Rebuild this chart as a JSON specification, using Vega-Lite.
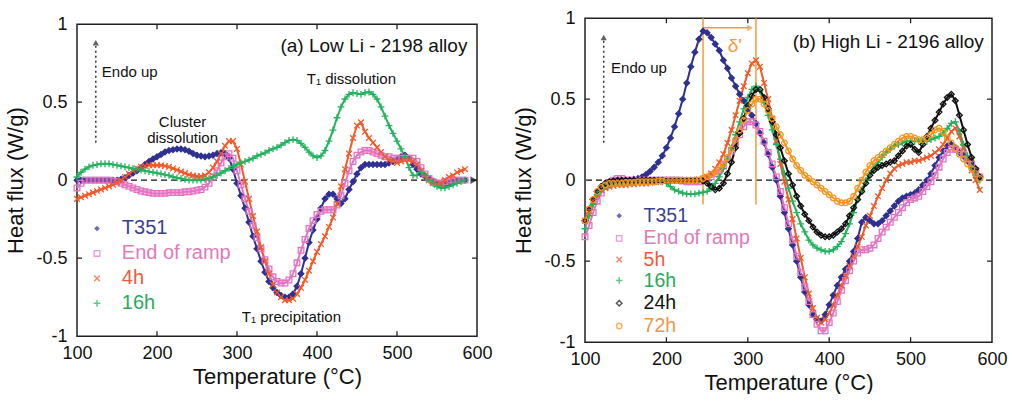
{
"$schema": "https://vega.github.io/schema/vega-lite/v6.json",
"background": "white",
"padding": {"top": 8, "left": 4, "right": 5, "bottom": 0},
"config": {
  "font": "Liberation Sans",
  "view": {"stroke": "#222", "strokeWidth": 1.5},
  "axis": {"grid": false, "ticks": false, "domain": false, "labelFlush": false, "labelFont": "Liberation Sans", "labelFontSize": 18, "labelColor": "#111", "titleFont": "Liberation Sans", "titleFontSize": 22, "titleFontWeight": "normal", "titleColor": "#111", "labelPadding": 10},
  "text": {"font": "Liberation Sans"}
},
"resolve": {"scale": {"color": "independent", "shape": "independent", "stroke": "independent"}},
"center": true,
"spacing": 19,
"datasets": {
"A": [
{"s":"T351","t":100,"v":0},{"s":"T351","t":105,"v":0},{"s":"T351","t":110,"v":0},{"s":"T351","t":115,"v":0},{"s":"T351","t":120,"v":0},{"s":"T351","t":125,"v":0},{"s":"T351","t":130,"v":0},{"s":"T351","t":135,"v":0},{"s":"T351","t":140,"v":0},{"s":"T351","t":145,"v":0},{"s":"T351","t":150,"v":0},{"s":"T351","t":155,"v":0.005},{"s":"T351","t":160,"v":0.015},{"s":"T351","t":165,"v":0.03},{"s":"T351","t":170,"v":0.045},{"s":"T351","t":175,"v":0.06},{"s":"T351","t":180,"v":0.08},{"s":"T351","t":185,"v":0.1},{"s":"T351","t":190,"v":0.12},{"s":"T351","t":195,"v":0.135},{"s":"T351","t":200,"v":0.15},{"s":"T351","t":205,"v":0.165},{"s":"T351","t":210,"v":0.18},{"s":"T351","t":215,"v":0.19},{"s":"T351","t":220,"v":0.195},{"s":"T351","t":225,"v":0.2},{"s":"T351","t":230,"v":0.2},{"s":"T351","t":235,"v":0.195},{"s":"T351","t":240,"v":0.185},{"s":"T351","t":245,"v":0.17},{"s":"T351","t":250,"v":0.16},{"s":"T351","t":255,"v":0.155},{"s":"T351","t":260,"v":0.15},{"s":"T351","t":265,"v":0.155},{"s":"T351","t":270,"v":0.16},{"s":"T351","t":275,"v":0.17},{"s":"T351","t":280,"v":0.175},{"s":"T351","t":285,"v":0.17},{"s":"T351","t":290,"v":0.14},{"s":"T351","t":295,"v":0.07},{"s":"T351","t":300,"v":-0.02},{"s":"T351","t":305,"v":-0.1},{"s":"T351","t":310,"v":-0.18},{"s":"T351","t":315,"v":-0.27},{"s":"T351","t":320,"v":-0.36},{"s":"T351","t":325,"v":-0.44},{"s":"T351","t":330,"v":-0.52},{"s":"T351","t":335,"v":-0.59},{"s":"T351","t":340,"v":-0.65},{"s":"T351","t":345,"v":-0.69},{"s":"T351","t":350,"v":-0.72},{"s":"T351","t":355,"v":-0.74},{"s":"T351","t":360,"v":-0.75},{"s":"T351","t":365,"v":-0.75},{"s":"T351","t":370,"v":-0.73},{"s":"T351","t":375,"v":-0.68},{"s":"T351","t":380,"v":-0.6},{"s":"T351","t":385,"v":-0.5},{"s":"T351","t":390,"v":-0.4},{"s":"T351","t":395,"v":-0.32},{"s":"T351","t":400,"v":-0.25},{"s":"T351","t":405,"v":-0.18},{"s":"T351","t":410,"v":-0.12},{"s":"T351","t":415,"v":-0.09},{"s":"T351","t":420,"v":-0.09},{"s":"T351","t":425,"v":-0.12},{"s":"T351","t":430,"v":-0.15},{"s":"T351","t":435,"v":-0.12},{"s":"T351","t":440,"v":-0.06},{"s":"T351","t":445,"v":-0.01},{"s":"T351","t":450,"v":0.04},{"s":"T351","t":455,"v":0.08},{"s":"T351","t":460,"v":0.1},{"s":"T351","t":465,"v":0.1},{"s":"T351","t":470,"v":0.1},{"s":"T351","t":475,"v":0.1},{"s":"T351","t":480,"v":0.1},{"s":"T351","t":485,"v":0.1},{"s":"T351","t":490,"v":0.11},{"s":"T351","t":495,"v":0.12},{"s":"T351","t":500,"v":0.13},{"s":"T351","t":505,"v":0.15},{"s":"T351","t":510,"v":0.16},{"s":"T351","t":515,"v":0.14},{"s":"T351","t":520,"v":0.1},{"s":"T351","t":525,"v":0.07},{"s":"T351","t":530,"v":0.04},{"s":"T351","t":535,"v":0.025},{"s":"T351","t":540,"v":0.01},{"s":"T351","t":545,"v":-0.005},{"s":"T351","t":550,"v":-0.02},{"s":"T351","t":555,"v":-0.03},{"s":"T351","t":560,"v":-0.03},{"s":"T351","t":565,"v":-0.02},{"s":"T351","t":570,"v":-0.01},{"s":"T351","t":575,"v":0},{"s":"T351","t":580,"v":0},{"s":"T351","t":585,"v":0},
{"s":"End of ramp","t":100,"v":-0.05},{"s":"End of ramp","t":105,"v":-0.02},{"s":"End of ramp","t":110,"v":0},{"s":"End of ramp","t":115,"v":0},{"s":"End of ramp","t":120,"v":0},{"s":"End of ramp","t":125,"v":0},{"s":"End of ramp","t":130,"v":0},{"s":"End of ramp","t":135,"v":0},{"s":"End of ramp","t":140,"v":0},{"s":"End of ramp","t":145,"v":-0.005},{"s":"End of ramp","t":150,"v":-0.01},{"s":"End of ramp","t":155,"v":-0.02},{"s":"End of ramp","t":160,"v":-0.03},{"s":"End of ramp","t":165,"v":-0.04},{"s":"End of ramp","t":170,"v":-0.05},{"s":"End of ramp","t":175,"v":-0.06},{"s":"End of ramp","t":180,"v":-0.07},{"s":"End of ramp","t":185,"v":-0.075},{"s":"End of ramp","t":190,"v":-0.08},{"s":"End of ramp","t":195,"v":-0.085},{"s":"End of ramp","t":200,"v":-0.085},{"s":"End of ramp","t":205,"v":-0.085},{"s":"End of ramp","t":210,"v":-0.085},{"s":"End of ramp","t":215,"v":-0.08},{"s":"End of ramp","t":220,"v":-0.08},{"s":"End of ramp","t":225,"v":-0.08},{"s":"End of ramp","t":230,"v":-0.08},{"s":"End of ramp","t":235,"v":-0.075},{"s":"End of ramp","t":240,"v":-0.075},{"s":"End of ramp","t":245,"v":-0.07},{"s":"End of ramp","t":250,"v":-0.065},{"s":"End of ramp","t":255,"v":-0.06},{"s":"End of ramp","t":260,"v":-0.045},{"s":"End of ramp","t":265,"v":-0.02},{"s":"End of ramp","t":270,"v":0.02},{"s":"End of ramp","t":275,"v":0.06},{"s":"End of ramp","t":280,"v":0.11},{"s":"End of ramp","t":285,"v":0.15},{"s":"End of ramp","t":290,"v":0.17},{"s":"End of ramp","t":295,"v":0.14},{"s":"End of ramp","t":300,"v":0.06},{"s":"End of ramp","t":305,"v":-0.03},{"s":"End of ramp","t":310,"v":-0.12},{"s":"End of ramp","t":315,"v":-0.2},{"s":"End of ramp","t":320,"v":-0.29},{"s":"End of ramp","t":325,"v":-0.37},{"s":"End of ramp","t":330,"v":-0.44},{"s":"End of ramp","t":335,"v":-0.51},{"s":"End of ramp","t":340,"v":-0.57},{"s":"End of ramp","t":345,"v":-0.62},{"s":"End of ramp","t":350,"v":-0.65},{"s":"End of ramp","t":355,"v":-0.66},{"s":"End of ramp","t":360,"v":-0.66},{"s":"End of ramp","t":365,"v":-0.64},{"s":"End of ramp","t":370,"v":-0.6},{"s":"End of ramp","t":375,"v":-0.53},{"s":"End of ramp","t":380,"v":-0.45},{"s":"End of ramp","t":385,"v":-0.38},{"s":"End of ramp","t":390,"v":-0.31},{"s":"End of ramp","t":395,"v":-0.26},{"s":"End of ramp","t":400,"v":-0.22},{"s":"End of ramp","t":405,"v":-0.2},{"s":"End of ramp","t":410,"v":-0.19},{"s":"End of ramp","t":415,"v":-0.19},{"s":"End of ramp","t":420,"v":-0.19},{"s":"End of ramp","t":425,"v":-0.16},{"s":"End of ramp","t":430,"v":-0.1},{"s":"End of ramp","t":435,"v":-0.02},{"s":"End of ramp","t":440,"v":0.06},{"s":"End of ramp","t":445,"v":0.12},{"s":"End of ramp","t":450,"v":0.16},{"s":"End of ramp","t":455,"v":0.18},{"s":"End of ramp","t":460,"v":0.19},{"s":"End of ramp","t":465,"v":0.19},{"s":"End of ramp","t":470,"v":0.18},{"s":"End of ramp","t":475,"v":0.17},{"s":"End of ramp","t":480,"v":0.16},{"s":"End of ramp","t":485,"v":0.15},{"s":"End of ramp","t":490,"v":0.15},{"s":"End of ramp","t":495,"v":0.14},{"s":"End of ramp","t":500,"v":0.14},{"s":"End of ramp","t":505,"v":0.14},{"s":"End of ramp","t":510,"v":0.14},{"s":"End of ramp","t":515,"v":0.14},{"s":"End of ramp","t":520,"v":0.14},{"s":"End of ramp","t":525,"v":0.12},{"s":"End of ramp","t":530,"v":0.08},{"s":"End of ramp","t":535,"v":0.04},{"s":"End of ramp","t":540,"v":0.01},{"s":"End of ramp","t":545,"v":-0.01},{"s":"End of ramp","t":550,"v":-0.02},{"s":"End of ramp","t":555,"v":-0.02},{"s":"End of ramp","t":560,"v":-0.01},{"s":"End of ramp","t":565,"v":0},{"s":"End of ramp","t":570,"v":0},{"s":"End of ramp","t":575,"v":0},{"s":"End of ramp","t":580,"v":0},{"s":"End of ramp","t":585,"v":0},
{"s":"4h","t":100,"v":-0.12},{"s":"4h","t":105,"v":-0.11},{"s":"4h","t":110,"v":-0.1},{"s":"4h","t":115,"v":-0.09},{"s":"4h","t":120,"v":-0.08},{"s":"4h","t":125,"v":-0.07},{"s":"4h","t":130,"v":-0.06},{"s":"4h","t":135,"v":-0.05},{"s":"4h","t":140,"v":-0.04},{"s":"4h","t":145,"v":-0.03},{"s":"4h","t":150,"v":-0.015},{"s":"4h","t":155,"v":0},{"s":"4h","t":160,"v":0.02},{"s":"4h","t":165,"v":0.04},{"s":"4h","t":170,"v":0.06},{"s":"4h","t":175,"v":0.075},{"s":"4h","t":180,"v":0.085},{"s":"4h","t":185,"v":0.09},{"s":"4h","t":190,"v":0.095},{"s":"4h","t":195,"v":0.095},{"s":"4h","t":200,"v":0.095},{"s":"4h","t":205,"v":0.095},{"s":"4h","t":210,"v":0.09},{"s":"4h","t":215,"v":0.085},{"s":"4h","t":220,"v":0.075},{"s":"4h","t":225,"v":0.065},{"s":"4h","t":230,"v":0.055},{"s":"4h","t":235,"v":0.045},{"s":"4h","t":240,"v":0.035},{"s":"4h","t":245,"v":0.03},{"s":"4h","t":250,"v":0.025},{"s":"4h","t":255,"v":0.025},{"s":"4h","t":260,"v":0.03},{"s":"4h","t":265,"v":0.05},{"s":"4h","t":270,"v":0.08},{"s":"4h","t":275,"v":0.12},{"s":"4h","t":280,"v":0.17},{"s":"4h","t":285,"v":0.22},{"s":"4h","t":290,"v":0.25},{"s":"4h","t":295,"v":0.25},{"s":"4h","t":300,"v":0.2},{"s":"4h","t":305,"v":0.1},{"s":"4h","t":310,"v":-0.01},{"s":"4h","t":315,"v":-0.12},{"s":"4h","t":320,"v":-0.23},{"s":"4h","t":325,"v":-0.33},{"s":"4h","t":330,"v":-0.43},{"s":"4h","t":335,"v":-0.52},{"s":"4h","t":340,"v":-0.6},{"s":"4h","t":345,"v":-0.67},{"s":"4h","t":350,"v":-0.72},{"s":"4h","t":355,"v":-0.75},{"s":"4h","t":360,"v":-0.77},{"s":"4h","t":365,"v":-0.77},{"s":"4h","t":370,"v":-0.76},{"s":"4h","t":375,"v":-0.73},{"s":"4h","t":380,"v":-0.69},{"s":"4h","t":385,"v":-0.64},{"s":"4h","t":390,"v":-0.58},{"s":"4h","t":395,"v":-0.52},{"s":"4h","t":400,"v":-0.46},{"s":"4h","t":405,"v":-0.41},{"s":"4h","t":410,"v":-0.36},{"s":"4h","t":415,"v":-0.3},{"s":"4h","t":420,"v":-0.24},{"s":"4h","t":425,"v":-0.15},{"s":"4h","t":430,"v":-0.04},{"s":"4h","t":435,"v":0.07},{"s":"4h","t":440,"v":0.17},{"s":"4h","t":445,"v":0.27},{"s":"4h","t":450,"v":0.35},{"s":"4h","t":455,"v":0.37},{"s":"4h","t":460,"v":0.31},{"s":"4h","t":465,"v":0.27},{"s":"4h","t":470,"v":0.24},{"s":"4h","t":475,"v":0.21},{"s":"4h","t":480,"v":0.18},{"s":"4h","t":485,"v":0.15},{"s":"4h","t":490,"v":0.13},{"s":"4h","t":495,"v":0.12},{"s":"4h","t":500,"v":0.11},{"s":"4h","t":505,"v":0.12},{"s":"4h","t":510,"v":0.13},{"s":"4h","t":515,"v":0.13},{"s":"4h","t":520,"v":0.12},{"s":"4h","t":525,"v":0.1},{"s":"4h","t":530,"v":0.06},{"s":"4h","t":535,"v":0.03},{"s":"4h","t":540,"v":0},{"s":"4h","t":545,"v":-0.02},{"s":"4h","t":550,"v":-0.03},{"s":"4h","t":555,"v":-0.02},{"s":"4h","t":560,"v":0},{"s":"4h","t":565,"v":0.02},{"s":"4h","t":570,"v":0.03},{"s":"4h","t":575,"v":0.05},{"s":"4h","t":580,"v":0.06},{"s":"4h","t":585,"v":0.07},
{"s":"16h","t":100,"v":0.02},{"s":"16h","t":105,"v":0.05},{"s":"16h","t":110,"v":0.07},{"s":"16h","t":115,"v":0.085},{"s":"16h","t":120,"v":0.095},{"s":"16h","t":125,"v":0.1},{"s":"16h","t":130,"v":0.105},{"s":"16h","t":135,"v":0.105},{"s":"16h","t":140,"v":0.105},{"s":"16h","t":145,"v":0.1},{"s":"16h","t":150,"v":0.095},{"s":"16h","t":155,"v":0.09},{"s":"16h","t":160,"v":0.085},{"s":"16h","t":165,"v":0.08},{"s":"16h","t":170,"v":0.075},{"s":"16h","t":175,"v":0.07},{"s":"16h","t":180,"v":0.065},{"s":"16h","t":185,"v":0.06},{"s":"16h","t":190,"v":0.055},{"s":"16h","t":195,"v":0.05},{"s":"16h","t":200,"v":0.045},{"s":"16h","t":205,"v":0.04},{"s":"16h","t":210,"v":0.035},{"s":"16h","t":215,"v":0.03},{"s":"16h","t":220,"v":0.02},{"s":"16h","t":225,"v":0.015},{"s":"16h","t":230,"v":0.01},{"s":"16h","t":235,"v":0.005},{"s":"16h","t":240,"v":0},{"s":"16h","t":245,"v":0},{"s":"16h","t":250,"v":0},{"s":"16h","t":255,"v":0},{"s":"16h","t":260,"v":0.005},{"s":"16h","t":265,"v":0.01},{"s":"16h","t":270,"v":0.02},{"s":"16h","t":275,"v":0.03},{"s":"16h","t":280,"v":0.045},{"s":"16h","t":285,"v":0.06},{"s":"16h","t":290,"v":0.075},{"s":"16h","t":295,"v":0.09},{"s":"16h","t":300,"v":0.1},{"s":"16h","t":305,"v":0.11},{"s":"16h","t":310,"v":0.12},{"s":"16h","t":315,"v":0.13},{"s":"16h","t":320,"v":0.14},{"s":"16h","t":325,"v":0.155},{"s":"16h","t":330,"v":0.165},{"s":"16h","t":335,"v":0.175},{"s":"16h","t":340,"v":0.19},{"s":"16h","t":345,"v":0.2},{"s":"16h","t":350,"v":0.21},{"s":"16h","t":355,"v":0.225},{"s":"16h","t":360,"v":0.24},{"s":"16h","t":365,"v":0.255},{"s":"16h","t":370,"v":0.26},{"s":"16h","t":375,"v":0.255},{"s":"16h","t":380,"v":0.235},{"s":"16h","t":385,"v":0.21},{"s":"16h","t":390,"v":0.18},{"s":"16h","t":395,"v":0.155},{"s":"16h","t":400,"v":0.145},{"s":"16h","t":405,"v":0.155},{"s":"16h","t":410,"v":0.19},{"s":"16h","t":415,"v":0.25},{"s":"16h","t":420,"v":0.32},{"s":"16h","t":425,"v":0.4},{"s":"16h","t":430,"v":0.47},{"s":"16h","t":435,"v":0.52},{"s":"16h","t":440,"v":0.55},{"s":"16h","t":445,"v":0.56},{"s":"16h","t":450,"v":0.555},{"s":"16h","t":455,"v":0.55},{"s":"16h","t":460,"v":0.56},{"s":"16h","t":465,"v":0.565},{"s":"16h","t":470,"v":0.55},{"s":"16h","t":475,"v":0.52},{"s":"16h","t":480,"v":0.47},{"s":"16h","t":485,"v":0.41},{"s":"16h","t":490,"v":0.35},{"s":"16h","t":495,"v":0.3},{"s":"16h","t":500,"v":0.25},{"s":"16h","t":505,"v":0.2},{"s":"16h","t":510,"v":0.15},{"s":"16h","t":515,"v":0.08},{"s":"16h","t":520,"v":0.03},{"s":"16h","t":525,"v":0.03},{"s":"16h","t":530,"v":0.05},{"s":"16h","t":535,"v":0.03},{"s":"16h","t":540,"v":0},{"s":"16h","t":545,"v":-0.02},{"s":"16h","t":550,"v":-0.04},{"s":"16h","t":555,"v":-0.05},{"s":"16h","t":560,"v":-0.05},{"s":"16h","t":565,"v":-0.04},{"s":"16h","t":570,"v":-0.03},{"s":"16h","t":575,"v":-0.02},{"s":"16h","t":580,"v":-0.01},{"s":"16h","t":585,"v":0}
],
"B": [
{"s":"T351","t":100,"v":-0.25},{"s":"T351","t":105,"v":-0.18},{"s":"T351","t":110,"v":-0.12},{"s":"T351","t":115,"v":-0.07},{"s":"T351","t":120,"v":-0.04},{"s":"T351","t":125,"v":-0.02},{"s":"T351","t":130,"v":-0.01},{"s":"T351","t":135,"v":0},{"s":"T351","t":140,"v":0},{"s":"T351","t":145,"v":0},{"s":"T351","t":150,"v":0},{"s":"T351","t":155,"v":0},{"s":"T351","t":160,"v":0.005},{"s":"T351","t":165,"v":0.01},{"s":"T351","t":170,"v":0.02},{"s":"T351","t":175,"v":0.035},{"s":"T351","t":180,"v":0.055},{"s":"T351","t":185,"v":0.08},{"s":"T351","t":190,"v":0.11},{"s":"T351","t":195,"v":0.15},{"s":"T351","t":200,"v":0.2},{"s":"T351","t":205,"v":0.26},{"s":"T351","t":210,"v":0.33},{"s":"T351","t":215,"v":0.41},{"s":"T351","t":220,"v":0.5},{"s":"T351","t":225,"v":0.6},{"s":"T351","t":230,"v":0.7},{"s":"T351","t":235,"v":0.79},{"s":"T351","t":240,"v":0.87},{"s":"T351","t":245,"v":0.92},{"s":"T351","t":250,"v":0.91},{"s":"T351","t":255,"v":0.88},{"s":"T351","t":260,"v":0.84},{"s":"T351","t":265,"v":0.8},{"s":"T351","t":270,"v":0.74},{"s":"T351","t":275,"v":0.69},{"s":"T351","t":280,"v":0.63},{"s":"T351","t":285,"v":0.58},{"s":"T351","t":290,"v":0.53},{"s":"T351","t":295,"v":0.49},{"s":"T351","t":300,"v":0.44},{"s":"T351","t":305,"v":0.4},{"s":"T351","t":310,"v":0.35},{"s":"T351","t":315,"v":0.29},{"s":"T351","t":320,"v":0.23},{"s":"T351","t":325,"v":0.16},{"s":"T351","t":330,"v":0.08},{"s":"T351","t":335,"v":0},{"s":"T351","t":340,"v":-0.1},{"s":"T351","t":345,"v":-0.2},{"s":"T351","t":350,"v":-0.3},{"s":"T351","t":355,"v":-0.4},{"s":"T351","t":360,"v":-0.5},{"s":"T351","t":365,"v":-0.6},{"s":"T351","t":370,"v":-0.69},{"s":"T351","t":375,"v":-0.77},{"s":"T351","t":380,"v":-0.83},{"s":"T351","t":385,"v":-0.86},{"s":"T351","t":390,"v":-0.87},{"s":"T351","t":395,"v":-0.83},{"s":"T351","t":400,"v":-0.77},{"s":"T351","t":405,"v":-0.71},{"s":"T351","t":410,"v":-0.65},{"s":"T351","t":415,"v":-0.6},{"s":"T351","t":420,"v":-0.55},{"s":"T351","t":425,"v":-0.5},{"s":"T351","t":430,"v":-0.44},{"s":"T351","t":435,"v":-0.36},{"s":"T351","t":440,"v":-0.26},{"s":"T351","t":445,"v":-0.23},{"s":"T351","t":450,"v":-0.25},{"s":"T351","t":455,"v":-0.27},{"s":"T351","t":460,"v":-0.27},{"s":"T351","t":465,"v":-0.25},{"s":"T351","t":470,"v":-0.22},{"s":"T351","t":475,"v":-0.19},{"s":"T351","t":480,"v":-0.16},{"s":"T351","t":485,"v":-0.13},{"s":"T351","t":490,"v":-0.11},{"s":"T351","t":495,"v":-0.1},{"s":"T351","t":500,"v":-0.09},{"s":"T351","t":505,"v":-0.08},{"s":"T351","t":510,"v":-0.06},{"s":"T351","t":515,"v":-0.03},{"s":"T351","t":520,"v":0},{"s":"T351","t":525,"v":0.04},{"s":"T351","t":530,"v":0.09},{"s":"T351","t":535,"v":0.14},{"s":"T351","t":540,"v":0.18},{"s":"T351","t":545,"v":0.21},{"s":"T351","t":550,"v":0.22},{"s":"T351","t":555,"v":0.2},{"s":"T351","t":560,"v":0.17},{"s":"T351","t":565,"v":0.15},{"s":"T351","t":570,"v":0.12},{"s":"T351","t":575,"v":0.09},{"s":"T351","t":580,"v":0.06},{"s":"T351","t":585,"v":0.02},
{"s":"End of ramp","t":100,"v":-0.35},{"s":"End of ramp","t":105,"v":-0.28},{"s":"End of ramp","t":110,"v":-0.2},{"s":"End of ramp","t":115,"v":-0.13},{"s":"End of ramp","t":120,"v":-0.08},{"s":"End of ramp","t":125,"v":-0.04},{"s":"End of ramp","t":130,"v":-0.02},{"s":"End of ramp","t":135,"v":0},{"s":"End of ramp","t":140,"v":0.01},{"s":"End of ramp","t":145,"v":0.01},{"s":"End of ramp","t":150,"v":0},{"s":"End of ramp","t":155,"v":0},{"s":"End of ramp","t":160,"v":0},{"s":"End of ramp","t":165,"v":0},{"s":"End of ramp","t":170,"v":0},{"s":"End of ramp","t":175,"v":0},{"s":"End of ramp","t":180,"v":0},{"s":"End of ramp","t":185,"v":0},{"s":"End of ramp","t":190,"v":0},{"s":"End of ramp","t":195,"v":0},{"s":"End of ramp","t":200,"v":0},{"s":"End of ramp","t":205,"v":0},{"s":"End of ramp","t":210,"v":0},{"s":"End of ramp","t":215,"v":0},{"s":"End of ramp","t":220,"v":-0.005},{"s":"End of ramp","t":225,"v":-0.01},{"s":"End of ramp","t":230,"v":-0.01},{"s":"End of ramp","t":235,"v":-0.01},{"s":"End of ramp","t":240,"v":-0.01},{"s":"End of ramp","t":245,"v":0},{"s":"End of ramp","t":250,"v":0.01},{"s":"End of ramp","t":255,"v":0.02},{"s":"End of ramp","t":260,"v":0.04},{"s":"End of ramp","t":265,"v":0.06},{"s":"End of ramp","t":270,"v":0.09},{"s":"End of ramp","t":275,"v":0.13},{"s":"End of ramp","t":280,"v":0.18},{"s":"End of ramp","t":285,"v":0.23},{"s":"End of ramp","t":290,"v":0.28},{"s":"End of ramp","t":295,"v":0.33},{"s":"End of ramp","t":300,"v":0.36},{"s":"End of ramp","t":305,"v":0.36},{"s":"End of ramp","t":310,"v":0.34},{"s":"End of ramp","t":315,"v":0.3},{"s":"End of ramp","t":320,"v":0.24},{"s":"End of ramp","t":325,"v":0.17},{"s":"End of ramp","t":330,"v":0.1},{"s":"End of ramp","t":335,"v":0.02},{"s":"End of ramp","t":340,"v":-0.07},{"s":"End of ramp","t":345,"v":-0.17},{"s":"End of ramp","t":350,"v":-0.27},{"s":"End of ramp","t":355,"v":-0.37},{"s":"End of ramp","t":360,"v":-0.47},{"s":"End of ramp","t":365,"v":-0.57},{"s":"End of ramp","t":370,"v":-0.66},{"s":"End of ramp","t":375,"v":-0.75},{"s":"End of ramp","t":380,"v":-0.83},{"s":"End of ramp","t":385,"v":-0.89},{"s":"End of ramp","t":390,"v":-0.93},{"s":"End of ramp","t":395,"v":-0.93},{"s":"End of ramp","t":400,"v":-0.88},{"s":"End of ramp","t":405,"v":-0.82},{"s":"End of ramp","t":410,"v":-0.75},{"s":"End of ramp","t":415,"v":-0.68},{"s":"End of ramp","t":420,"v":-0.62},{"s":"End of ramp","t":425,"v":-0.56},{"s":"End of ramp","t":430,"v":-0.5},{"s":"End of ramp","t":435,"v":-0.45},{"s":"End of ramp","t":440,"v":-0.43},{"s":"End of ramp","t":445,"v":-0.43},{"s":"End of ramp","t":450,"v":-0.42},{"s":"End of ramp","t":455,"v":-0.4},{"s":"End of ramp","t":460,"v":-0.36},{"s":"End of ramp","t":465,"v":-0.32},{"s":"End of ramp","t":470,"v":-0.29},{"s":"End of ramp","t":475,"v":-0.26},{"s":"End of ramp","t":480,"v":-0.23},{"s":"End of ramp","t":485,"v":-0.2},{"s":"End of ramp","t":490,"v":-0.17},{"s":"End of ramp","t":495,"v":-0.14},{"s":"End of ramp","t":500,"v":-0.12},{"s":"End of ramp","t":505,"v":-0.11},{"s":"End of ramp","t":510,"v":-0.1},{"s":"End of ramp","t":515,"v":-0.07},{"s":"End of ramp","t":520,"v":-0.04},{"s":"End of ramp","t":525,"v":-0.01},{"s":"End of ramp","t":530,"v":0.03},{"s":"End of ramp","t":535,"v":0.08},{"s":"End of ramp","t":540,"v":0.13},{"s":"End of ramp","t":545,"v":0.17},{"s":"End of ramp","t":550,"v":0.19},{"s":"End of ramp","t":555,"v":0.19},{"s":"End of ramp","t":560,"v":0.18},{"s":"End of ramp","t":565,"v":0.16},{"s":"End of ramp","t":570,"v":0.13},{"s":"End of ramp","t":575,"v":0.1},{"s":"End of ramp","t":580,"v":0.06},{"s":"End of ramp","t":585,"v":0.02},
{"s":"5h","t":100,"v":-0.25},{"s":"5h","t":105,"v":-0.19},{"s":"5h","t":110,"v":-0.13},{"s":"5h","t":115,"v":-0.09},{"s":"5h","t":120,"v":-0.06},{"s":"5h","t":125,"v":-0.05},{"s":"5h","t":130,"v":-0.04},{"s":"5h","t":135,"v":-0.035},{"s":"5h","t":140,"v":-0.03},{"s":"5h","t":145,"v":-0.03},{"s":"5h","t":150,"v":-0.03},{"s":"5h","t":155,"v":-0.025},{"s":"5h","t":160,"v":-0.025},{"s":"5h","t":165,"v":-0.02},{"s":"5h","t":170,"v":-0.02},{"s":"5h","t":175,"v":-0.02},{"s":"5h","t":180,"v":-0.015},{"s":"5h","t":185,"v":-0.01},{"s":"5h","t":190,"v":-0.01},{"s":"5h","t":195,"v":-0.005},{"s":"5h","t":200,"v":0},{"s":"5h","t":205,"v":0},{"s":"5h","t":210,"v":0},{"s":"5h","t":215,"v":0},{"s":"5h","t":220,"v":0},{"s":"5h","t":225,"v":0},{"s":"5h","t":230,"v":0},{"s":"5h","t":235,"v":0},{"s":"5h","t":240,"v":0.005},{"s":"5h","t":245,"v":0.01},{"s":"5h","t":250,"v":0.02},{"s":"5h","t":255,"v":0.04},{"s":"5h","t":260,"v":0.07},{"s":"5h","t":265,"v":0.11},{"s":"5h","t":270,"v":0.16},{"s":"5h","t":275,"v":0.23},{"s":"5h","t":280,"v":0.31},{"s":"5h","t":285,"v":0.4},{"s":"5h","t":290,"v":0.49},{"s":"5h","t":295,"v":0.58},{"s":"5h","t":300,"v":0.66},{"s":"5h","t":305,"v":0.72},{"s":"5h","t":310,"v":0.74},{"s":"5h","t":315,"v":0.7},{"s":"5h","t":320,"v":0.6},{"s":"5h","t":325,"v":0.5},{"s":"5h","t":330,"v":0.38},{"s":"5h","t":335,"v":0.24},{"s":"5h","t":340,"v":0.1},{"s":"5h","t":345,"v":-0.01},{"s":"5h","t":350,"v":-0.12},{"s":"5h","t":355,"v":-0.24},{"s":"5h","t":360,"v":-0.36},{"s":"5h","t":365,"v":-0.48},{"s":"5h","t":370,"v":-0.6},{"s":"5h","t":375,"v":-0.7},{"s":"5h","t":380,"v":-0.79},{"s":"5h","t":385,"v":-0.85},{"s":"5h","t":390,"v":-0.88},{"s":"5h","t":395,"v":-0.86},{"s":"5h","t":400,"v":-0.82},{"s":"5h","t":405,"v":-0.77},{"s":"5h","t":410,"v":-0.71},{"s":"5h","t":415,"v":-0.65},{"s":"5h","t":420,"v":-0.59},{"s":"5h","t":425,"v":-0.53},{"s":"5h","t":430,"v":-0.47},{"s":"5h","t":435,"v":-0.41},{"s":"5h","t":440,"v":-0.35},{"s":"5h","t":445,"v":-0.28},{"s":"5h","t":450,"v":-0.22},{"s":"5h","t":455,"v":-0.16},{"s":"5h","t":460,"v":-0.1},{"s":"5h","t":465,"v":-0.05},{"s":"5h","t":470,"v":0},{"s":"5h","t":475,"v":0.04},{"s":"5h","t":480,"v":0.07},{"s":"5h","t":485,"v":0.09},{"s":"5h","t":490,"v":0.1},{"s":"5h","t":495,"v":0.11},{"s":"5h","t":500,"v":0.11},{"s":"5h","t":505,"v":0.12},{"s":"5h","t":510,"v":0.12},{"s":"5h","t":515,"v":0.13},{"s":"5h","t":520,"v":0.14},{"s":"5h","t":525,"v":0.15},{"s":"5h","t":530,"v":0.17},{"s":"5h","t":535,"v":0.19},{"s":"5h","t":540,"v":0.22},{"s":"5h","t":545,"v":0.26},{"s":"5h","t":550,"v":0.3},{"s":"5h","t":555,"v":0.32},{"s":"5h","t":560,"v":0.27},{"s":"5h","t":565,"v":0.2},{"s":"5h","t":570,"v":0.13},{"s":"5h","t":575,"v":0.06},{"s":"5h","t":580,"v":0},{"s":"5h","t":585,"v":-0.06},
{"s":"16h","t":100,"v":-0.3},{"s":"16h","t":105,"v":-0.22},{"s":"16h","t":110,"v":-0.15},{"s":"16h","t":115,"v":-0.09},{"s":"16h","t":120,"v":-0.06},{"s":"16h","t":125,"v":-0.04},{"s":"16h","t":130,"v":-0.03},{"s":"16h","t":135,"v":-0.02},{"s":"16h","t":140,"v":-0.02},{"s":"16h","t":145,"v":-0.015},{"s":"16h","t":150,"v":-0.01},{"s":"16h","t":155,"v":-0.01},{"s":"16h","t":160,"v":-0.01},{"s":"16h","t":165,"v":-0.01},{"s":"16h","t":170,"v":-0.01},{"s":"16h","t":175,"v":-0.01},{"s":"16h","t":180,"v":-0.01},{"s":"16h","t":185,"v":-0.01},{"s":"16h","t":190,"v":-0.01},{"s":"16h","t":195,"v":-0.01},{"s":"16h","t":200,"v":-0.02},{"s":"16h","t":205,"v":-0.04},{"s":"16h","t":210,"v":-0.06},{"s":"16h","t":215,"v":-0.07},{"s":"16h","t":220,"v":-0.08},{"s":"16h","t":225,"v":-0.085},{"s":"16h","t":230,"v":-0.085},{"s":"16h","t":235,"v":-0.085},{"s":"16h","t":240,"v":-0.08},{"s":"16h","t":245,"v":-0.075},{"s":"16h","t":250,"v":-0.07},{"s":"16h","t":255,"v":-0.05},{"s":"16h","t":260,"v":-0.02},{"s":"16h","t":265,"v":0.02},{"s":"16h","t":270,"v":0.07},{"s":"16h","t":275,"v":0.13},{"s":"16h","t":280,"v":0.2},{"s":"16h","t":285,"v":0.28},{"s":"16h","t":290,"v":0.36},{"s":"16h","t":295,"v":0.44},{"s":"16h","t":300,"v":0.51},{"s":"16h","t":305,"v":0.56},{"s":"16h","t":310,"v":0.58},{"s":"16h","t":315,"v":0.55},{"s":"16h","t":320,"v":0.48},{"s":"16h","t":325,"v":0.4},{"s":"16h","t":330,"v":0.31},{"s":"16h","t":335,"v":0.22},{"s":"16h","t":340,"v":0.13},{"s":"16h","t":345,"v":0.04},{"s":"16h","t":350,"v":-0.05},{"s":"16h","t":355,"v":-0.13},{"s":"16h","t":360,"v":-0.2},{"s":"16h","t":365,"v":-0.27},{"s":"16h","t":370,"v":-0.32},{"s":"16h","t":375,"v":-0.37},{"s":"16h","t":380,"v":-0.4},{"s":"16h","t":385,"v":-0.42},{"s":"16h","t":390,"v":-0.43},{"s":"16h","t":395,"v":-0.44},{"s":"16h","t":400,"v":-0.44},{"s":"16h","t":405,"v":-0.43},{"s":"16h","t":410,"v":-0.41},{"s":"16h","t":415,"v":-0.38},{"s":"16h","t":420,"v":-0.33},{"s":"16h","t":425,"v":-0.27},{"s":"16h","t":430,"v":-0.2},{"s":"16h","t":435,"v":-0.12},{"s":"16h","t":440,"v":-0.06},{"s":"16h","t":445,"v":0},{"s":"16h","t":450,"v":0.04},{"s":"16h","t":455,"v":0.08},{"s":"16h","t":460,"v":0.11},{"s":"16h","t":465,"v":0.14},{"s":"16h","t":470,"v":0.17},{"s":"16h","t":475,"v":0.19},{"s":"16h","t":480,"v":0.21},{"s":"16h","t":485,"v":0.22},{"s":"16h","t":490,"v":0.23},{"s":"16h","t":495,"v":0.24},{"s":"16h","t":500,"v":0.24},{"s":"16h","t":505,"v":0.24},{"s":"16h","t":510,"v":0.24},{"s":"16h","t":515,"v":0.24},{"s":"16h","t":520,"v":0.24},{"s":"16h","t":525,"v":0.25},{"s":"16h","t":530,"v":0.26},{"s":"16h","t":535,"v":0.27},{"s":"16h","t":540,"v":0.29},{"s":"16h","t":545,"v":0.32},{"s":"16h","t":550,"v":0.35},{"s":"16h","t":555,"v":0.36},{"s":"16h","t":560,"v":0.3},{"s":"16h","t":565,"v":0.22},{"s":"16h","t":570,"v":0.15},{"s":"16h","t":575,"v":0.08},{"s":"16h","t":580,"v":0.03},{"s":"16h","t":585,"v":0},
{"s":"24h","t":100,"v":-0.25},{"s":"24h","t":105,"v":-0.18},{"s":"24h","t":110,"v":-0.12},{"s":"24h","t":115,"v":-0.07},{"s":"24h","t":120,"v":-0.04},{"s":"24h","t":125,"v":-0.02},{"s":"24h","t":130,"v":-0.01},{"s":"24h","t":135,"v":-0.005},{"s":"24h","t":140,"v":0},{"s":"24h","t":145,"v":0},{"s":"24h","t":150,"v":0},{"s":"24h","t":155,"v":0},{"s":"24h","t":160,"v":0},{"s":"24h","t":165,"v":0},{"s":"24h","t":170,"v":0},{"s":"24h","t":175,"v":0},{"s":"24h","t":180,"v":0},{"s":"24h","t":185,"v":0},{"s":"24h","t":190,"v":0},{"s":"24h","t":195,"v":0},{"s":"24h","t":200,"v":0},{"s":"24h","t":205,"v":0},{"s":"24h","t":210,"v":0},{"s":"24h","t":215,"v":0},{"s":"24h","t":220,"v":0},{"s":"24h","t":225,"v":0},{"s":"24h","t":230,"v":0},{"s":"24h","t":235,"v":0},{"s":"24h","t":240,"v":0},{"s":"24h","t":245,"v":-0.005},{"s":"24h","t":250,"v":-0.02},{"s":"24h","t":255,"v":-0.04},{"s":"24h","t":260,"v":-0.06},{"s":"24h","t":265,"v":-0.05},{"s":"24h","t":270,"v":-0.02},{"s":"24h","t":275,"v":0.04},{"s":"24h","t":280,"v":0.11},{"s":"24h","t":285,"v":0.2},{"s":"24h","t":290,"v":0.29},{"s":"24h","t":295,"v":0.38},{"s":"24h","t":300,"v":0.46},{"s":"24h","t":305,"v":0.52},{"s":"24h","t":310,"v":0.56},{"s":"24h","t":315,"v":0.56},{"s":"24h","t":320,"v":0.51},{"s":"24h","t":325,"v":0.44},{"s":"24h","t":330,"v":0.36},{"s":"24h","t":335,"v":0.28},{"s":"24h","t":340,"v":0.2},{"s":"24h","t":345,"v":0.12},{"s":"24h","t":350,"v":0.04},{"s":"24h","t":355,"v":-0.03},{"s":"24h","t":360,"v":-0.1},{"s":"24h","t":365,"v":-0.16},{"s":"24h","t":370,"v":-0.21},{"s":"24h","t":375,"v":-0.25},{"s":"24h","t":380,"v":-0.29},{"s":"24h","t":385,"v":-0.32},{"s":"24h","t":390,"v":-0.34},{"s":"24h","t":395,"v":-0.35},{"s":"24h","t":400,"v":-0.35},{"s":"24h","t":405,"v":-0.34},{"s":"24h","t":410,"v":-0.32},{"s":"24h","t":415,"v":-0.3},{"s":"24h","t":420,"v":-0.27},{"s":"24h","t":425,"v":-0.22},{"s":"24h","t":430,"v":-0.17},{"s":"24h","t":435,"v":-0.12},{"s":"24h","t":440,"v":-0.07},{"s":"24h","t":445,"v":-0.02},{"s":"24h","t":450,"v":0.03},{"s":"24h","t":455,"v":0.06},{"s":"24h","t":460,"v":0.08},{"s":"24h","t":465,"v":0.09},{"s":"24h","t":470,"v":0.1},{"s":"24h","t":475,"v":0.11},{"s":"24h","t":480,"v":0.12},{"s":"24h","t":485,"v":0.15},{"s":"24h","t":490,"v":0.18},{"s":"24h","t":495,"v":0.21},{"s":"24h","t":500,"v":0.22},{"s":"24h","t":505,"v":0.19},{"s":"24h","t":510,"v":0.17},{"s":"24h","t":515,"v":0.22},{"s":"24h","t":520,"v":0.27},{"s":"24h","t":525,"v":0.32},{"s":"24h","t":530,"v":0.37},{"s":"24h","t":535,"v":0.42},{"s":"24h","t":540,"v":0.47},{"s":"24h","t":545,"v":0.51},{"s":"24h","t":550,"v":0.53},{"s":"24h","t":555,"v":0.49},{"s":"24h","t":560,"v":0.4},{"s":"24h","t":565,"v":0.31},{"s":"24h","t":570,"v":0.22},{"s":"24h","t":575,"v":0.14},{"s":"24h","t":580,"v":0.07},{"s":"24h","t":585,"v":0.02},
{"s":"72h","t":100,"v":-0.25},{"s":"72h","t":105,"v":-0.18},{"s":"72h","t":110,"v":-0.12},{"s":"72h","t":115,"v":-0.07},{"s":"72h","t":120,"v":-0.045},{"s":"72h","t":125,"v":-0.03},{"s":"72h","t":130,"v":-0.02},{"s":"72h","t":135,"v":-0.02},{"s":"72h","t":140,"v":-0.02},{"s":"72h","t":145,"v":-0.02},{"s":"72h","t":150,"v":-0.015},{"s":"72h","t":155,"v":-0.015},{"s":"72h","t":160,"v":-0.015},{"s":"72h","t":165,"v":-0.01},{"s":"72h","t":170,"v":-0.01},{"s":"72h","t":175,"v":-0.01},{"s":"72h","t":180,"v":-0.01},{"s":"72h","t":185,"v":-0.01},{"s":"72h","t":190,"v":-0.005},{"s":"72h","t":195,"v":-0.005},{"s":"72h","t":200,"v":0},{"s":"72h","t":205,"v":0},{"s":"72h","t":210,"v":0},{"s":"72h","t":215,"v":0},{"s":"72h","t":220,"v":0},{"s":"72h","t":225,"v":0},{"s":"72h","t":230,"v":0},{"s":"72h","t":235,"v":0},{"s":"72h","t":240,"v":0},{"s":"72h","t":245,"v":0.01},{"s":"72h","t":250,"v":0.02},{"s":"72h","t":255,"v":0.035},{"s":"72h","t":260,"v":0.05},{"s":"72h","t":265,"v":0.07},{"s":"72h","t":270,"v":0.1},{"s":"72h","t":275,"v":0.14},{"s":"72h","t":280,"v":0.19},{"s":"72h","t":285,"v":0.25},{"s":"72h","t":290,"v":0.31},{"s":"72h","t":295,"v":0.37},{"s":"72h","t":300,"v":0.43},{"s":"72h","t":305,"v":0.47},{"s":"72h","t":310,"v":0.5},{"s":"72h","t":315,"v":0.5},{"s":"72h","t":320,"v":0.47},{"s":"72h","t":325,"v":0.43},{"s":"72h","t":330,"v":0.38},{"s":"72h","t":335,"v":0.33},{"s":"72h","t":340,"v":0.28},{"s":"72h","t":345,"v":0.23},{"s":"72h","t":350,"v":0.18},{"s":"72h","t":355,"v":0.13},{"s":"72h","t":360,"v":0.09},{"s":"72h","t":365,"v":0.06},{"s":"72h","t":370,"v":0.03},{"s":"72h","t":375,"v":0.01},{"s":"72h","t":380,"v":-0.01},{"s":"72h","t":385,"v":-0.03},{"s":"72h","t":390,"v":-0.05},{"s":"72h","t":395,"v":-0.07},{"s":"72h","t":400,"v":-0.09},{"s":"72h","t":405,"v":-0.11},{"s":"72h","t":410,"v":-0.13},{"s":"72h","t":415,"v":-0.14},{"s":"72h","t":420,"v":-0.14},{"s":"72h","t":425,"v":-0.13},{"s":"72h","t":430,"v":-0.1},{"s":"72h","t":435,"v":-0.05},{"s":"72h","t":440,"v":0},{"s":"72h","t":445,"v":0.05},{"s":"72h","t":450,"v":0.09},{"s":"72h","t":455,"v":0.12},{"s":"72h","t":460,"v":0.14},{"s":"72h","t":465,"v":0.16},{"s":"72h","t":470,"v":0.18},{"s":"72h","t":475,"v":0.2},{"s":"72h","t":480,"v":0.22},{"s":"72h","t":485,"v":0.24},{"s":"72h","t":490,"v":0.26},{"s":"72h","t":495,"v":0.27},{"s":"72h","t":500,"v":0.27},{"s":"72h","t":505,"v":0.26},{"s":"72h","t":510,"v":0.25},{"s":"72h","t":515,"v":0.25},{"s":"72h","t":520,"v":0.26},{"s":"72h","t":525,"v":0.28},{"s":"72h","t":530,"v":0.31},{"s":"72h","t":535,"v":0.32},{"s":"72h","t":540,"v":0.3},{"s":"72h","t":545,"v":0.26},{"s":"72h","t":550,"v":0.23},{"s":"72h","t":555,"v":0.2},{"s":"72h","t":560,"v":0.16},{"s":"72h","t":565,"v":0.13},{"s":"72h","t":570,"v":0.1},{"s":"72h","t":575,"v":0.07},{"s":"72h","t":580,"v":0.04},{"s":"72h","t":585,"v":0.01}
]
},
"hconcat": [
{
  "width": 400, "height": 312,
  "resolve": {"axis": {"x": "independent", "y": "independent"}},
  "layer": [
    {"data": {"values": [{}]}, "mark": {"type": "rule", "strokeDash": [5, 302], "color": "#222", "strokeWidth": 1.3}, "encoding": {"x": {"datum": 200, "type": "quantitative", "axis": null}}},
    {"data": {"values": [{}]}, "mark": {"type": "rule", "strokeDash": [5, 302], "color": "#222", "strokeWidth": 1.3}, "encoding": {"x": {"datum": 300, "type": "quantitative", "axis": null}}},
    {"data": {"values": [{}]}, "mark": {"type": "rule", "strokeDash": [5, 302], "color": "#222", "strokeWidth": 1.3}, "encoding": {"x": {"datum": 400, "type": "quantitative", "axis": null}}},
    {"data": {"values": [{}]}, "mark": {"type": "rule", "strokeDash": [5, 302], "color": "#222", "strokeWidth": 1.3}, "encoding": {"x": {"datum": 500, "type": "quantitative", "axis": null}}},
    {"data": {"values": [{}]}, "mark": {"type": "rule", "strokeDash": [5, 390], "color": "#222", "strokeWidth": 1.3}, "encoding": {"y": {"datum": 0.5, "type": "quantitative", "axis": null}}},
    {"data": {"values": [{}]}, "mark": {"type": "rule", "strokeDash": [5, 390], "color": "#222", "strokeWidth": 1.3}, "encoding": {"y": {"datum": -0.5, "type": "quantitative", "axis": null}}},
    {"data": {"values": [{}]},
     "mark": {"type": "rule", "strokeDash": [6, 4], "color": "#111", "strokeWidth": 1.3},
     "encoding": {"y": {"datum": 0, "type": "quantitative", "axis": null}}},
    {"data": {"values": [{}]},
     "mark": {"type": "point", "shape": "triangle-left", "filled": true, "size": 60, "color": "#111"},
     "encoding": {"x": {"datum": 104, "type": "quantitative", "axis": null}, "y": {"datum": 0, "type": "quantitative", "axis": null}}},
    {"data": {"values": [{}]},
     "mark": {"type": "point", "shape": "triangle-right", "filled": true, "size": 60, "color": "#111"},
     "encoding": {"x": {"datum": 596, "type": "quantitative", "axis": null}, "y": {"datum": 0, "type": "quantitative", "axis": null}}},
    {"data": {"name": "A"},
     "mark": {"type": "line", "strokeWidth": 2},
     "encoding": {
       "x": {"field": "t", "type": "quantitative", "axis": null},
       "y": {"field": "v", "type": "quantitative", "axis": null},
       "stroke": {"field": "s", "type": "nominal", "legend": null, "scale": {"domain": ["T351", "End of ramp", "4h", "16h"], "range": ["#2e3192", "#e474c2", "#f15a29", "#22b35e"]}},
       "detail": {"field": "s"}
     }},
    {"data": {"name": "A"},
     "mark": {"type": "point", "filled": false, "size": 32, "strokeWidth": 1.3, "opacity": 1},
     "encoding": {
       "x": {"field": "t", "type": "quantitative", "scale": {"domain": [100, 600], "nice": false, "zero": false, "padding": 0}, "axis": {"orient": "bottom", "values": [100, 200, 300, 400, 500, 600], "title": "Temperature (°C)", "titlePadding": 4, "labelPadding": 8}},
       "y": {"field": "v", "type": "quantitative", "scale": {"domain": [-1, 1], "nice": false, "zero": false, "padding": 0}, "axis": {"orient": "left", "values": [-1, -0.5, 0, 0.5, 1], "labelExpr": "'' + datum.value", "title": "Heat flux (W/g)", "titlePadding": 8}},
       "color": {"field": "s", "type": "nominal", "legend": null, "scale": {"domain": ["T351", "End of ramp", "4h", "16h"], "range": ["#2e3192", "#e474c2", "#f15a29", "#22b35e"]}},
       "shape": {"field": "s", "type": "nominal", "legend": null, "scale": {"domain": ["T351", "End of ramp", "4h", "16h"], "range": ["diamond", "square", "M-1,-1L1,1M-1,1L1,-1", "M0,-1.2L0,1.2M-1.2,0L1.2,0"]}},
       "fill": {"condition": {"test": "datum.s === 'T351'", "value": "#2e3192"}, "value": "transparent"}
     }},
    {"data": {"values": [{}]},
     "mark": {"type": "text", "align": "right", "baseline": "middle", "fontSize": 19, "color": "#111"},
     "encoding": {"x": {"datum": 588, "type": "quantitative", "axis": null}, "y": {"datum": 0.86, "type": "quantitative", "axis": null}, "text": {"value": "(a) Low Li - 2198 alloy"}}},
    {"data": {"values": [{}]},
     "mark": {"type": "text", "align": "left", "baseline": "middle", "fontSize": 15, "color": "#111"},
     "encoding": {"x": {"datum": 131, "type": "quantitative", "axis": null}, "y": {"datum": 0.69, "type": "quantitative", "axis": null}, "text": {"value": "Endo up"}}},
    {"data": {"values": [{}]},
     "mark": {"type": "rule", "strokeDash": [2, 3], "strokeWidth": 1.5, "color": "#333"},
     "encoding": {"x": {"datum": 123.5, "type": "quantitative", "axis": null}, "y": {"datum": 0.24, "type": "quantitative", "axis": null}, "y2": {"datum": 0.86}}},
    {"data": {"values": [{}]},
     "mark": {"type": "point", "shape": "triangle-up", "filled": true, "size": 40, "color": "#222"},
     "encoding": {"x": {"datum": 123.5, "type": "quantitative", "axis": null}, "y": {"datum": 0.88, "type": "quantitative", "axis": null}}},
    {"data": {"values": [{}]},
     "mark": {"type": "text", "align": "center", "baseline": "middle", "fontSize": 15, "lineHeight": 16, "color": "#111"},
     "encoding": {"x": {"datum": 232, "type": "quantitative", "axis": null}, "y": {"datum": 0.37, "type": "quantitative", "axis": null}, "text": {"value": ["Cluster", "dissolution"]}}},
    {"data": {"values": [{}]},
     "mark": {"type": "text", "align": "center", "baseline": "middle", "fontSize": 15, "color": "#111"},
     "encoding": {"x": {"datum": 443, "type": "quantitative", "axis": null}, "y": {"datum": 0.65, "type": "quantitative", "axis": null}, "text": {"value": "T₁ dissolution"}}},
    {"data": {"values": [{}]},
     "mark": {"type": "text", "align": "center", "baseline": "middle", "fontSize": 15, "color": "#111"},
     "encoding": {"x": {"datum": 368, "type": "quantitative", "axis": null}, "y": {"datum": -0.88, "type": "quantitative", "axis": null}, "text": {"value": "T₁ precipitation"}}},
    {"data": {"values": [{}]}, "encoding": {"y": {"datum": -0.31, "type": "quantitative", "axis": null}},
     "layer": [
       {"mark": {"type": "point", "shape": "diamond", "filled": true, "size": 32, "color": "#2e3192"}, "encoding": {"x": {"datum": 125, "type": "quantitative", "axis": null}}},
       {"mark": {"type": "text", "align": "left", "baseline": "middle", "fontSize": 20, "color": "#3a3f8f"}, "encoding": {"x": {"datum": 156, "type": "quantitative", "axis": null}, "text": {"value": "T351"}}}
     ]},
    {"data": {"values": [{}]}, "encoding": {"y": {"datum": -0.47, "type": "quantitative", "axis": null}},
     "layer": [
       {"mark": {"type": "point", "shape": "square", "filled": false, "size": 32, "strokeWidth": 1.3, "color": "#e474c2"}, "encoding": {"x": {"datum": 125, "type": "quantitative", "axis": null}}},
       {"mark": {"type": "text", "align": "left", "baseline": "middle", "fontSize": 20, "color": "#e07ab8"}, "encoding": {"x": {"datum": 156, "type": "quantitative", "axis": null}, "text": {"value": "End of ramp"}}}
     ]},
    {"data": {"values": [{}]}, "encoding": {"y": {"datum": -0.63, "type": "quantitative", "axis": null}},
     "layer": [
       {"mark": {"type": "point", "shape": "M-1,-1L1,1M-1,1L1,-1", "filled": false, "size": 32, "strokeWidth": 1.5, "color": "#f15a29"}, "encoding": {"x": {"datum": 125, "type": "quantitative", "axis": null}}},
       {"mark": {"type": "text", "align": "left", "baseline": "middle", "fontSize": 20, "color": "#f05a3a"}, "encoding": {"x": {"datum": 156, "type": "quantitative", "axis": null}, "text": {"value": "4h"}}}
     ]},
    {"data": {"values": [{}]}, "encoding": {"y": {"datum": -0.79, "type": "quantitative", "axis": null}},
     "layer": [
       {"mark": {"type": "point", "shape": "M0,-1.2L0,1.2M-1.2,0L1.2,0", "filled": false, "size": 32, "strokeWidth": 1.5, "color": "#22b35e"}, "encoding": {"x": {"datum": 125, "type": "quantitative", "axis": null}}},
       {"mark": {"type": "text", "align": "left", "baseline": "middle", "fontSize": 20, "color": "#2aa860"}, "encoding": {"x": {"datum": 156, "type": "quantitative", "axis": null}, "text": {"value": "16h"}}}
     ]}
  ]
},
{
  "width": 407, "height": 324,
  "resolve": {"axis": {"x": "independent", "y": "independent"}},
  "layer": [
    {"data": {"values": [{}]}, "mark": {"type": "rule", "strokeDash": [5, 314], "color": "#222", "strokeWidth": 1.3}, "encoding": {"x": {"datum": 200, "type": "quantitative", "axis": null}}},
    {"data": {"values": [{}]}, "mark": {"type": "rule", "strokeDash": [5, 314], "color": "#222", "strokeWidth": 1.3}, "encoding": {"x": {"datum": 300, "type": "quantitative", "axis": null}}},
    {"data": {"values": [{}]}, "mark": {"type": "rule", "strokeDash": [5, 314], "color": "#222", "strokeWidth": 1.3}, "encoding": {"x": {"datum": 400, "type": "quantitative", "axis": null}}},
    {"data": {"values": [{}]}, "mark": {"type": "rule", "strokeDash": [5, 314], "color": "#222", "strokeWidth": 1.3}, "encoding": {"x": {"datum": 500, "type": "quantitative", "axis": null}}},
    {"data": {"values": [{}]}, "mark": {"type": "rule", "strokeDash": [5, 397], "color": "#222", "strokeWidth": 1.3}, "encoding": {"y": {"datum": 0.5, "type": "quantitative", "axis": null}}},
    {"data": {"values": [{}]}, "mark": {"type": "rule", "strokeDash": [5, 397], "color": "#222", "strokeWidth": 1.3}, "encoding": {"y": {"datum": -0.5, "type": "quantitative", "axis": null}}},
    {"data": {"values": [{}]},
     "mark": {"type": "rule", "strokeDash": [6, 4], "color": "#111", "strokeWidth": 1.3},
     "encoding": {"y": {"datum": 0, "type": "quantitative", "axis": null}}},
    {"data": {"values": [{}]},
     "mark": {"type": "rule", "color": "#f59a3c", "strokeWidth": 1.5},
     "encoding": {"x": {"datum": 245, "type": "quantitative", "axis": null}, "y": {"datum": -0.15, "type": "quantitative", "axis": null}, "y2": {"datum": 1}}},
    {"data": {"values": [{}]},
     "mark": {"type": "rule", "color": "#f59a3c", "strokeWidth": 1.5},
     "encoding": {"x": {"datum": 310, "type": "quantitative", "axis": null}, "y": {"datum": -0.15, "type": "quantitative", "axis": null}, "y2": {"datum": 1}}},
    {"data": {"values": [{}]},
     "mark": {"type": "rule", "color": "#f59a3c", "strokeWidth": 1.5},
     "encoding": {"x": {"datum": 245, "type": "quantitative", "axis": null}, "x2": {"datum": 302}, "y": {"datum": 0.94, "type": "quantitative", "axis": null}}},
    {"data": {"values": [{}]},
     "mark": {"type": "point", "shape": "triangle-right", "filled": true, "size": 45, "color": "#f59a3c"},
     "encoding": {"x": {"datum": 303, "type": "quantitative", "axis": null}, "y": {"datum": 0.94, "type": "quantitative", "axis": null}}},
    {"data": {"name": "B"},
     "mark": {"type": "line", "strokeWidth": 2},
     "encoding": {
       "x": {"field": "t", "type": "quantitative", "axis": null},
       "y": {"field": "v", "type": "quantitative", "axis": null},
       "stroke": {"field": "s", "type": "nominal", "legend": null, "scale": {"domain": ["T351", "End of ramp", "5h", "16h", "24h", "72h"], "range": ["#2e3192", "#e474c2", "#f15a29", "#22b35e", "#111111", "#f7941d"]}},
       "detail": {"field": "s"}
     }},
    {"data": {"name": "B"},
     "mark": {"type": "point", "filled": false, "size": 32, "strokeWidth": 1.3, "opacity": 1},
     "encoding": {
       "x": {"field": "t", "type": "quantitative", "scale": {"domain": [100, 600], "nice": false, "zero": false, "padding": 0}, "axis": {"orient": "bottom", "values": [100, 200, 300, 400, 500, 600], "title": "Temperature (°C)", "titlePadding": 4, "labelPadding": 8}},
       "y": {"field": "v", "type": "quantitative", "scale": {"domain": [-1, 1], "nice": false, "zero": false, "padding": 0}, "axis": {"orient": "left", "values": [-1, -0.5, 0, 0.5, 1], "labelExpr": "'' + datum.value", "title": "Heat flux (W/g)", "titlePadding": 8}},
       "color": {"field": "s", "type": "nominal", "legend": null, "scale": {"domain": ["T351", "End of ramp", "5h", "16h", "24h", "72h"], "range": ["#2e3192", "#e474c2", "#f15a29", "#22b35e", "#111111", "#f7941d"]}},
       "shape": {"field": "s", "type": "nominal", "legend": null, "scale": {"domain": ["T351", "End of ramp", "5h", "16h", "24h", "72h"], "range": ["diamond", "square", "M-1,-1L1,1M-1,1L1,-1", "M0,-1.2L0,1.2M-1.2,0L1.2,0", "diamond", "circle"]}},
       "fill": {"condition": {"test": "datum.s === 'T351'", "value": "#2e3192"}, "value": "transparent"}
     }},
    {"data": {"values": [{}]},
     "mark": {"type": "text", "align": "right", "baseline": "middle", "fontSize": 19, "color": "#111"},
     "encoding": {"x": {"datum": 590, "type": "quantitative", "axis": null}, "y": {"datum": 0.85, "type": "quantitative", "axis": null}, "text": {"value": "(b) High Li - 2196 alloy"}}},
    {"data": {"values": [{}]},
     "mark": {"type": "text", "align": "left", "baseline": "middle", "fontSize": 15, "color": "#111"},
     "encoding": {"x": {"datum": 132, "type": "quantitative", "axis": null}, "y": {"datum": 0.69, "type": "quantitative", "axis": null}, "text": {"value": "Endo up"}}},
    {"data": {"values": [{}]},
     "mark": {"type": "rule", "strokeDash": [2, 3], "strokeWidth": 1.5, "color": "#333"},
     "encoding": {"x": {"datum": 123, "type": "quantitative", "axis": null}, "y": {"datum": 0.23, "type": "quantitative", "axis": null}, "y2": {"datum": 0.86}}},
    {"data": {"values": [{}]},
     "mark": {"type": "point", "shape": "triangle-up", "filled": true, "size": 40, "color": "#222"},
     "encoding": {"x": {"datum": 123, "type": "quantitative", "axis": null}, "y": {"datum": 0.88, "type": "quantitative", "axis": null}}},
    {"data": {"values": [{}]},
     "mark": {"type": "text", "align": "center", "baseline": "middle", "fontSize": 19, "color": "#f59a3c"},
     "encoding": {"x": {"datum": 284, "type": "quantitative", "axis": null}, "y": {"datum": 0.83, "type": "quantitative", "axis": null}, "text": {"value": "δ'"}}},
    {"data": {"values": [{}]}, "encoding": {"y": {"datum": -0.22, "type": "quantitative", "axis": null}},
     "layer": [
       {"mark": {"type": "point", "shape": "diamond", "filled": true, "size": 30, "color": "#2e3192"}, "encoding": {"x": {"datum": 142, "type": "quantitative", "axis": null}}},
       {"mark": {"type": "text", "align": "left", "baseline": "middle", "fontSize": 19.5, "color": "#3a3f8f"}, "encoding": {"x": {"datum": 172, "type": "quantitative", "axis": null}, "text": {"value": "T351"}}}
     ]},
    {"data": {"values": [{}]}, "encoding": {"y": {"datum": -0.36, "type": "quantitative", "axis": null}},
     "layer": [
       {"mark": {"type": "point", "shape": "square", "filled": false, "size": 30, "strokeWidth": 1.3, "color": "#e474c2"}, "encoding": {"x": {"datum": 142, "type": "quantitative", "axis": null}}},
       {"mark": {"type": "text", "align": "left", "baseline": "middle", "fontSize": 19.5, "color": "#e07ab8"}, "encoding": {"x": {"datum": 172, "type": "quantitative", "axis": null}, "text": {"value": "End of ramp"}}}
     ]},
    {"data": {"values": [{}]}, "encoding": {"y": {"datum": -0.49, "type": "quantitative", "axis": null}},
     "layer": [
       {"mark": {"type": "point", "shape": "M-1,-1L1,1M-1,1L1,-1", "filled": false, "size": 30, "strokeWidth": 1.5, "color": "#f15a29"}, "encoding": {"x": {"datum": 142, "type": "quantitative", "axis": null}}},
       {"mark": {"type": "text", "align": "left", "baseline": "middle", "fontSize": 19.5, "color": "#f05a3a"}, "encoding": {"x": {"datum": 172, "type": "quantitative", "axis": null}, "text": {"value": "5h"}}}
     ]},
    {"data": {"values": [{}]}, "encoding": {"y": {"datum": -0.62, "type": "quantitative", "axis": null}},
     "layer": [
       {"mark": {"type": "point", "shape": "M0,-1.2L0,1.2M-1.2,0L1.2,0", "filled": false, "size": 30, "strokeWidth": 1.5, "color": "#22b35e"}, "encoding": {"x": {"datum": 142, "type": "quantitative", "axis": null}}},
       {"mark": {"type": "text", "align": "left", "baseline": "middle", "fontSize": 19.5, "color": "#2aa860"}, "encoding": {"x": {"datum": 172, "type": "quantitative", "axis": null}, "text": {"value": "16h"}}}
     ]},
    {"data": {"values": [{}]}, "encoding": {"y": {"datum": -0.76, "type": "quantitative", "axis": null}},
     "layer": [
       {"mark": {"type": "point", "shape": "diamond", "filled": false, "size": 30, "strokeWidth": 1.5, "color": "#111111"}, "encoding": {"x": {"datum": 142, "type": "quantitative", "axis": null}}},
       {"mark": {"type": "text", "align": "left", "baseline": "middle", "fontSize": 19.5, "color": "#111111"}, "encoding": {"x": {"datum": 172, "type": "quantitative", "axis": null}, "text": {"value": "24h"}}}
     ]},
    {"data": {"values": [{}]}, "encoding": {"y": {"datum": -0.9, "type": "quantitative", "axis": null}},
     "layer": [
       {"mark": {"type": "point", "shape": "circle", "filled": false, "size": 30, "strokeWidth": 1.5, "color": "#f7941d"}, "encoding": {"x": {"datum": 142, "type": "quantitative", "axis": null}}},
       {"mark": {"type": "text", "align": "left", "baseline": "middle", "fontSize": 19.5, "color": "#f0954a"}, "encoding": {"x": {"datum": 172, "type": "quantitative", "axis": null}, "text": {"value": "72h"}}}
     ]}
  ]
}
]
}
